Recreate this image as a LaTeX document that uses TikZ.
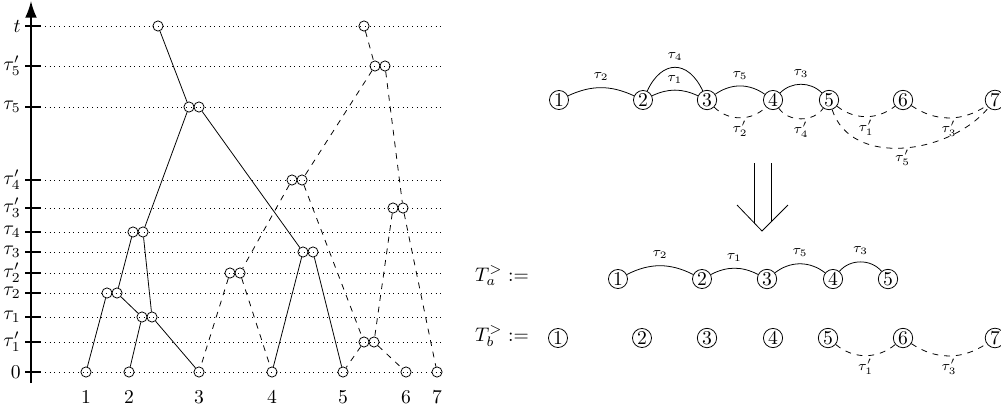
\documentclass[tikz,border=0pt]{standalone}
\usepackage{amsmath, amssymb}
\usepackage{tikz}
\usetikzlibrary{
    arrows.meta
}

\tikzset{
    evt/.style={circle, draw, inner sep=0pt, minimum size=5.2pt},
    vtx/.style={circle, draw, inner sep=0.5pt},
    elab/.style={font=\scriptsize},
}

\begin{document}
\begin{tikzpicture}[x=0.51pt, y=-0.51pt]
            \useasboundingbox (0,0) rectangle (1001,410);

            % Levels
            \foreach \y/\lab [count=\i] in {26/t, 66/\tau_5', 107/\tau_5, 180/\tau_4', 208/\tau_3', 232/\tau_4, 252/\tau_3, 273/\tau_2', 293/\tau_2, 317/\tau_1, 342/\tau_1', 372/0} {
                \draw[dotted] (45,\y) -- (442,\y);
                \draw[thick] (25,\y) -- (41,\y);
                \node[anchor=east, inner sep=0.5pt] (lev\i) at (22,\y) {$\lab$};
            }

            % Axes
            \draw[thick, -{Latex[length=8.5pt, width=6pt]}] (31,383) -- (31,1);

            % Leaves
            \foreach \x [count=\i] in {86,129,199,272,343,406,437} {
                \node[evt] (l\i) at (\x,372) {};
                \node (n\i) at (\x,397) {\i};
            }

            % Tree a
            \node[evt] (ra) at (158,26) {};
            \node[evt] (t5l) at (189,107) {};
            \node[evt] (t5r) at (199,107) {};
            \node[evt] (t4l) at (133,232) {};
            \node[evt] (t4r) at (143,232) {};
            \node[evt] (t3l) at (303,252) {};
            \node[evt] (t3r) at (313,252) {};
            \node[evt] (t2l) at (107,293) {};
            \node[evt] (t2r) at (117,293) {};
            \node[evt] (t1l) at (142,317) {};
            \node[evt] (t1r) at (152,317) {};
            \draw (ra) -- (t5l) (t5l) -- (t4r) (t5r) -- (t3l) (t4l) -- (t2r) (t4r) -- (t1r)
                  (t2l) -- (l1) (t2r) -- (t1l) (t1l) -- (l2) (t1r) -- (l3) (t3l) -- (l4) (t3r) -- (l5);

            % Tree b
            \node[evt] (rb) at (364,26) {};
            \node[evt] (p5l) at (375,66) {};
            \node[evt] (p5r) at (385,66) {};
            \node[evt] (p4l) at (292,180) {};
            \node[evt] (p4r) at (302,180) {};
            \node[evt] (p3l) at (393,208) {};
            \node[evt] (p3r) at (403,208) {};
            \node[evt] (p2l) at (230,273) {};
            \node[evt] (p2r) at (240,273) {};
            \node[evt] (p1l) at (364,342) {};
            \node[evt] (p1r) at (374,342) {};
            \draw[dashed] (rb) -- (p5l) (p5l) -- (p4r) (p5r) -- (p3r) (p4l) -- (p2r) (p4r) -- (p1l)
                  (p3l) -- (p1r) (p3r) -- (l7) (p2l) -- (l3) (p2r) -- (l4) (p1l) -- (l5) (p1r) -- (l6);

            % Graph of both trees
            \foreach \x [count=\i] in {559,643,707,773,829,903,995} {
                \node[vtx] (v\i) at (\x,100) {\i};
            }
            \draw (v1) to[bend left=25] node[above, elab] (e1) {$\tau_2$} (v2);
            \draw (v2) to[bend left=25] node[above, elab] (e2) {$\tau_1$} (v3);
            \draw (v2) to[out=65, in=115, looseness=1.6] node[above, elab] (e3) {$\tau_4$} (v3);
            \draw (v3) to[bend left=35] node[above, elab] (e4) {$\tau_5$} (v4);
            \draw (v4) to[bend left=45] node[above, elab] (e5) {$\tau_3$} (v5);
            \draw[dashed] (v3) to[bend right=45] node[below, elab, inner sep=1.5pt] (f1) {$\tau_2'$} (v4);
            \draw[dashed] (v4) to[bend right=55] node[below, elab, inner sep=1.5pt] (f2) {$\tau_4'$} (v5);
            \draw[dashed] (v5) to[bend right=38] node[below, elab, inner sep=1.5pt] (f3) {$\tau_1'$} (v6);
            \draw[dashed] (v6) to[bend right=34] node[below, elab, inner sep=1.5pt] (f4) {$\tau_3'$} (v7);
            \draw[dashed] (v5) to[out=-72, in=-130, looseness=1.0] node[below, elab, inner sep=1pt] (f5) {$\tau_5'$} (v7);

            % Double arrow
            \coordinate (al) at (737,205);
            \coordinate (at) at (762,231);
            \coordinate (ar) at (788,205);
            \draw (754,163) -- (754,223) (771,163) -- (771,222);
            \draw (al) -- (at) -- (ar);

            % Split trees
            \node[anchor=base, inner sep=1pt] (ta) at (502,281) {$T_a^{>} :=$};
            \node[anchor=base, inner sep=1pt] (tb) at (502,341) {$T_b^{>} :=$};
            \foreach \x [count=\i] in {618,702,767,833,888} {
                \node[vtx] (a\i) at (\x,279) {\i};
            }
            \foreach \x [count=\i] in {558,642,707,773,828,903,995} {
                \node[vtx] (b\i) at (\x,338) {\i};
            }
            \draw (a1) to[bend left=27] node[above, elab] (g1) {$\tau_2$} (a2);
            \draw (a2) to[bend left=27] node[above, elab] (g2) {$\tau_1$} (a3);
            \draw (a3) to[bend left=38] node[above, elab] (g3) {$\tau_5$} (a4);
            \draw (a4) to[bend left=50] node[above, elab] (g4) {$\tau_3$} (a5);
            \draw[dashed] (b5) to[bend right=40] node[below, elab, inner sep=1.5pt] (h1) {$\tau_1'$} (b6);
            \draw[dashed] (b6) to[bend right=34] node[below, elab, inner sep=1.5pt] (h2) {$\tau_3'$} (b7);
        \end{tikzpicture}
\end{document}
